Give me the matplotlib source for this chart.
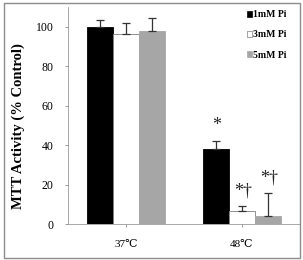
import matplotlib
matplotlib.use('Agg')
import matplotlib.pyplot as plt
import numpy as np
from matplotlib.patches import Patch, Rectangle

# Datos
temps = ['37\u2103', '48\u2103']
series = ['1mM Pi', '3mM Pi', '5mM Pi']
valores = {
    '1mM Pi': [100.0, 38.2],
    '3mM Pi': [96.1, 6.6],
    '5mM Pi': [98.1, 4.1],
}
errores = {
    '1mM Pi': [3.4, 4.2],
    '3mM Pi': [6.0, 2.8],
    '5mM Pi': [6.1, 11.9],
}
marcas = {
    '1mM Pi': ['', '*'],
    '3mM Pi': ['', '*\u2020'],
    '5mM Pi': ['', '*\u2020'],
}
y_ticks = [0, 20, 40, 60, 80, 100]

colores = {'1mM Pi': 'black', '3mM Pi': 'white', '5mM Pi': '#a6a6a6'}
bordes = {'1mM Pi': 'black', '3mM Pi': '#7f7f7f', '5mM Pi': '#a6a6a6'}
fuente = ['Liberation Serif', 'DejaVu Serif']

fig = plt.figure(figsize=(3.03, 2.60), dpi=100)
ax = fig.add_axes([68 / 303, 1 - 224.3 / 260, 232 / 303, 217.3 / 260])

x = np.arange(len(temps))
ancho = 0.223
for i, s in enumerate(series):
    pos = x + (i - 1) * ancho
    ax.bar(pos, valores[s], width=ancho, color=colores[s],
           edgecolor=bordes[s], linewidth=0.6, zorder=2)
    ax.errorbar(pos, valores[s], yerr=[np.zeros(len(temps)), errores[s]],
                fmt='none', ecolor='#333333', elinewidth=0.9,
                capsize=3, capthick=0.9, zorder=3)
    for p, v, e, m in zip(pos, valores[s], errores[s], marcas[s]):
        if m:
            ax.text(p + (0.01 if len(m) > 1 else 0), v + e + 7.5, m,
                    ha='center', va='center', fontsize=13, family=fuente,
                    color='#222222')

ax.set_xlim(-0.5, 1.5)
ax.set_ylim(0, 110)
ax.set_yticks(y_ticks)
ax.set_xticks(x)
ax.set_xticklabels(temps, family=fuente, fontsize=8)
for lbl in ax.get_yticklabels():
    lbl.set_family(fuente)
    lbl.set_fontsize(8.5)
ax.tick_params(axis='both', colors='#888888', length=2.5, width=0.6,
               labelcolor='black')
ax.tick_params(axis='y', pad=8)
ax.tick_params(axis='x', pad=9)
ax.spines['top'].set_visible(False)
ax.spines['right'].set_visible(False)
ax.spines['left'].set_color('#999999')
ax.spines['bottom'].set_color('#999999')
ax.spines['left'].set_linewidth(0.6)
ax.spines['bottom'].set_linewidth(0.6)

ax.set_ylabel('MTT Activity (% Control)', family=fuente, fontsize=10.5,
              fontweight='bold')
ax.yaxis.set_label_coords(-0.185, 0.45)

handles = [Patch(facecolor=colores[s], edgecolor=bordes[s], linewidth=0.5)
           for s in series]
leg = ax.legend(handles, series, loc='upper left',
                bbox_to_anchor=(240 / 303, 1 - 3.5 / 260),
                bbox_transform=fig.transFigure, frameon=False,
                handlelength=0.5, handleheight=0.6, handletextpad=0.15,
                labelspacing=1.15, borderpad=0.2,
                prop={'family': 'Liberation Serif', 'size': 7,
                      'weight': 'bold'})

# Marco exterior de la imagen
fig.patches.append(Rectangle((4 / 303, 2 / 260), 296 / 303, 255 / 260,
                             transform=fig.transFigure, fill=False,
                             edgecolor='#8c8c8c', linewidth=1.0))

fig.savefig('out.png', dpi=100, facecolor='white')
